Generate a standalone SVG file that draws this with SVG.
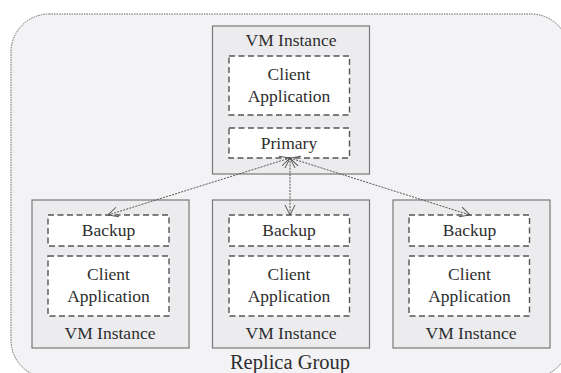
<svg xmlns="http://www.w3.org/2000/svg" width="561" height="373" viewBox="0 0 561 373">
<defs>
<style>
.vm{fill:#ececee;stroke:#7a7a7a;stroke-width:1.2}
.inner{fill:#ffffff;stroke:#555;stroke-width:1.4;stroke-dasharray:6 3.5}
.t{font-family:'Liberation Serif','DejaVu Serif',serif;font-size:17.5px;fill:#2e2e2e;text-anchor:middle}
.conn{fill:none;stroke:#555;stroke-width:1;stroke-dasharray:2 1.2;marker-start:url(#ah);marker-end:url(#ah)}
</style>
<marker id="ah" viewBox="0 0 12 12" refX="11" refY="6" markerWidth="12" markerHeight="12" markerUnits="userSpaceOnUse" orient="auto-start-reverse">
<path d="M1,1 L11,6 L1,11" fill="none" stroke="#555" stroke-width="1"/>
</marker>
</defs>
<rect x="0" y="0" width="561" height="373" fill="#ffffff"/>
<g id="replica-group">
<rect x="11" y="14" width="558" height="364" rx="38" ry="38" fill="#f3f3f5" stroke="#666" stroke-width="1" stroke-dasharray="1.5 1"/>
<text class="t" x="290" y="369" style="font-size:20.5px">Replica Group</text>
</g>
<g id="vm-top">
<rect class="vm" x="212.5" y="26" width="157" height="148"/>
<text class="t" x="291" y="46">VM Instance</text>
<rect class="inner" x="229" y="56" width="120.5" height="59"/>
<text class="t" x="289" y="80">Client</text>
<text class="t" x="289" y="102">Application</text>
<rect class="inner" x="229" y="128" width="120.5" height="30"/>
<text class="t" x="289" y="149">Primary</text>
</g>
<g id="vm-left">
<rect class="vm" x="32" y="200" width="157" height="148"/>
<rect class="inner" x="48" y="215" width="121" height="31"/>
<text class="t" x="108.5" y="236">Backup</text>
<rect class="inner" x="48" y="256" width="121" height="60"/>
<text class="t" x="108.5" y="280">Client</text>
<text class="t" x="108.5" y="302">Application</text>
<text class="t" x="110" y="339">VM Instance</text>
</g>
<g id="vm-middle">
<rect class="vm" x="212.5" y="200" width="157" height="148"/>
<rect class="inner" x="229" y="215" width="120.5" height="31"/>
<text class="t" x="289" y="236">Backup</text>
<rect class="inner" x="229" y="256" width="120.5" height="60"/>
<text class="t" x="289" y="280">Client</text>
<text class="t" x="289" y="302">Application</text>
<text class="t" x="291" y="339">VM Instance</text>
</g>
<g id="vm-right">
<rect class="vm" x="393" y="200" width="157" height="148"/>
<rect class="inner" x="409" y="215" width="120.5" height="31"/>
<text class="t" x="469.5" y="236">Backup</text>
<rect class="inner" x="409" y="256" width="120.5" height="60"/>
<text class="t" x="469.5" y="280">Client</text>
<text class="t" x="469.5" y="302">Application</text>
<text class="t" x="471" y="339">VM Instance</text>
</g>
<g id="connectors">
<line class="conn" x1="290" y1="158" x2="108" y2="215"/>
<line class="conn" x1="290" y1="158" x2="290" y2="215"/>
<line class="conn" x1="290" y1="158" x2="470" y2="215"/>
</g>
</svg>
